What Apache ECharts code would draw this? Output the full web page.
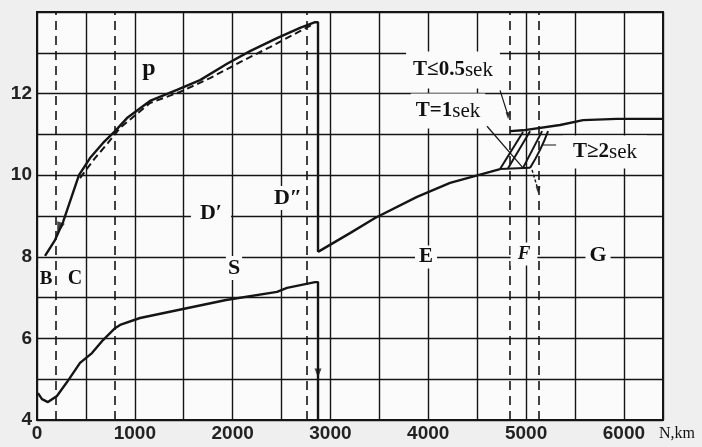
<!DOCTYPE html>
<html>
<head>
<meta charset="utf-8">
<script src="https://cdn.jsdelivr.net/npm/echarts@6/dist/echarts.min.js"></script>
<style>
html,body{margin:0;padding:0;background:#efefef;}
#c{width:702px;height:447px;}
</style>
</head>
<body>
<div id="c"></div>
<script>
// ---- tick labels ----
const xTickLabels = [0, 1000, 2000, 3000, 4000, 5000, 6000];
const yTickLabels = [4, 6, 8, 10, 12];

// ---- P wave velocity (solid) ----
const pSolidKm = [82, 184, 266, 429, 542, 675, 798, 920, 1155, 1431, 1667, 1943, 2178, 2454, 2689, 2843, 2873, 2873];
const pSolidV  = [8.02, 8.41, 8.85, 10.0, 10.42, 10.79, 11.08, 11.40, 11.82, 12.09, 12.33, 12.73, 13.04, 13.36, 13.61, 13.75, 13.75, 8.12];
// ---- P wave velocity (dashed variant) ----
const pDashKm = [440, 593, 726, 849, 1155, 1462, 1769, 2076, 2382, 2689, 2822];
const pDashV  = [9.93, 10.42, 10.79, 11.16, 11.77, 12.04, 12.38, 12.77, 13.14, 13.53, 13.70];
// ---- S wave velocity ----
const sKm = [10, 51, 112, 204, 307, 440, 562, 675, 798, 849, 1053, 1933, 2454, 2556, 2843, 2873, 2873];
const sV  = [4.66, 4.51, 4.44, 4.59, 4.93, 5.40, 5.64, 5.96, 6.25, 6.33, 6.50, 6.94, 7.14, 7.24, 7.38, 7.38, 4.0];
// ---- outer core E ----
const eKm = [2873, 3200, 3456, 3885, 4223, 4632, 4734];
const eV  = [8.12, 8.58, 8.95, 9.47, 9.81, 10.08, 10.15];
// ---- transition zone F ----
const fBaseKm = [4734, 5041];
const fBaseV  = [10.15, 10.18];
const t05Km = [4734, 4969];
const t05V  = [10.15, 11.06];
const t1Km  = [4816, 5041];
const t1V   = [10.17, 11.08];
const t1bKm = [4969, 5164];
const t1bV  = [10.18, 11.08];
const t2Km  = [5041, 5143, 5225];
const t2V   = [10.18, 10.62, 11.08];
// ---- inner core G ----
const gKm = [4836, 4969, 5348, 5583, 5930, 6400];
const gV  = [11.08, 11.10, 11.23, 11.35, 11.38, 11.38];
// ---- leader lines for the period labels ----
const lead1Km = [4601, 4969];
const lead1V  = [11.20, 10.18];
const lead05Km = [4734, 4816];
const lead05V  = [12.08, 11.46];
const lead2Km = [5164, 5307];
const lead2V  = [10.74, 10.74];
const leadDownKm = [5061, 5123];
const leadDownV  = [10.13, 9.64];
// ---- layer boundaries (dashed) ----
const boundaryKm = [194, 798, 2761, 4836, 5130];

const zip = (a, b) => a.map((v, i) => [v, b[i]]);
const INK = '#151515';

function line(name, xs, ys, extra) {
  return Object.assign({
    name, type: 'line', data: zip(xs, ys), symbol: 'none', silent: true,
    lineStyle: { color: INK, width: 2.4 }, z: 5
  }, extra || {});
}

const serif = '"Liberation Serif","DejaVu Serif",serif';

function label(text, x, y, size, opts) {
  opts = opts || {};
  return {
    type: 'text', x, y, z: 100,
    style: Object.assign({
      text, fill: '#111',
      font: (opts.italic ? 'italic ' : '') + (opts.weight || 'bold') + ' ' + size + 'px ' + serif,
      align: 'center', verticalAlign: 'middle',
      textAlign: 'center', textVerticalAlign: 'middle',
      backgroundColor: opts.bg === false ? 'transparent' : '#fbfbfb',
      padding: opts.pad || [1, 3]
    }, opts.rich ? { rich: opts.rich } : {})
  };
}

const richT = {
  b: { font: 'bold 21px ' + serif, fill: '#111' },
  n: { font: '21px ' + serif, fill: '#111' }
};

const chart = echarts.init(document.getElementById('c'), null, { renderer: 'canvas' });
chart.setOption({
  animation: false,
  backgroundColor: '#efefef',
  grid: {
    left: 37, right: 39, top: 12, bottom: 27,
    show: true, backgroundColor: '#fbfbfb', borderColor: INK, borderWidth: 2
  },
  xAxis: {
    type: 'value', min: 0, max: 6400, interval: 500,
    axisLine: { show: true, lineStyle: { color: INK, width: 2 } },
    axisTick: { show: false },
    splitLine: { show: true, lineStyle: { color: INK, width: 1.4 } },
    axisLabel: {
      margin: 4, color: '#222', fontSize: 19, fontWeight: 'bold',
      fontFamily: '"Liberation Sans",Arial,sans-serif',
      formatter: v => xTickLabels.includes(v) ? String(v) : ''
    }
  },
  yAxis: {
    type: 'value', min: 4, max: 14, interval: 1,
    axisLine: { show: true, lineStyle: { color: INK, width: 2 } },
    axisTick: { show: false },
    splitLine: { show: true, lineStyle: { color: INK, width: 1.4 } },
    axisLabel: {
      margin: 5, color: '#222', fontSize: 19, fontWeight: 'bold',
      fontFamily: '"Liberation Sans",Arial,sans-serif',
      formatter: v => yTickLabels.includes(v) ? String(v) : ''
    }
  },
  series: [
    {
      type: 'line', data: [], silent: true, z: 4,
      markLine: {
        silent: true, symbol: 'none', label: { show: false },
        lineStyle: { color: INK, width: 1.6, type: [9, 6] },
        data: boundaryKm.map(k => ({ xAxis: k }))
      }
    },
    line('P', pSolidKm, pSolidV),
    line('P dashed', pDashKm, pDashV, { lineStyle: { color: INK, width: 2, type: [7, 4] } }),
    line('S', sKm, sV),
    line('E', eKm, eV),
    line('F base', fBaseKm, fBaseV, { lineStyle: { color: INK, width: 2 } }),
    line('T<=0.5', t05Km, t05V, { lineStyle: { color: INK, width: 2 } }),
    line('T=1', t1Km, t1V, { lineStyle: { color: INK, width: 2 } }),
    line('T=1b', t1bKm, t1bV, { lineStyle: { color: INK, width: 2 } }),
    line('T>=2', t2Km, t2V, { smooth: true, lineStyle: { color: INK, width: 2 } }),
    line('G', gKm, gV),
    line('lead1', lead1Km, lead1V, { lineStyle: { color: INK, width: 1.2 } }),
    line('lead05', lead05Km, lead05V, { lineStyle: { color: INK, width: 1.2 } }),
    line('lead2', lead2Km, lead2V, { lineStyle: { color: INK, width: 1.2 } }),
    line('leadDown', leadDownKm, leadDownV, { lineStyle: { color: INK, width: 1.4, type: [3, 2] } }),
    {
      type: 'scatter', silent: true, z: 6,
      itemStyle: { color: INK },
      data: [
        { value: [pSolidKm[2] - 40, 8.7], symbol: 'triangle', symbolSize: [8, 12], symbolRotate: 161 },
        { value: [sKm[sKm.length - 1], 5.15], symbol: 'triangle', symbolSize: [7, 9], symbolRotate: 180 },
        { value: [lead05Km[1], lead05V[1]], symbol: 'triangle', symbolSize: [5, 7], symbolRotate: 180 },
        { value: [leadDownKm[1], leadDownV[1]], symbol: 'triangle', symbolSize: [5, 7], symbolRotate: 180 }
      ]
    }
  ],
  graphic: [
    label('p', 149, 69, 24, { bg: false }),
    label('D\u2032', 211, 213, 22, { pad: [2, 9] }),
    label('D\u2033', 288, 198, 22, { pad: [1, 2] }),
    label('S', 234, 268, 22, { pad: [1, 2] }),
    label('B', 46, 279, 19, { pad: [0, 1] }),
    label('C', 75, 279, 20, { pad: [0, 2] }),
    label('E', 426, 257, 21, { pad: [1, 4] }),
    label('F', 524, 254, 19, { italic: true, pad: [2, 7] }),
    label('G', 598, 255, 22, { pad: [1, 4] }),
    label('{b|T\u22640.5}{n|sek}', 453, 70, 21, { rich: richT, pad: [8, 7] }),
    label('{b|T=1}{n|sek}', 448, 111, 21, { rich: richT, pad: [7, 5] }),
    label('{b|T\u22652}{n|sek}', 605, 152, 21, { rich: richT, pad: [6, 10] }),
    label('N,km', 677, 434, 16, { weight: 'normal', bg: false })
  ]
});
</script>
</body>
</html>
